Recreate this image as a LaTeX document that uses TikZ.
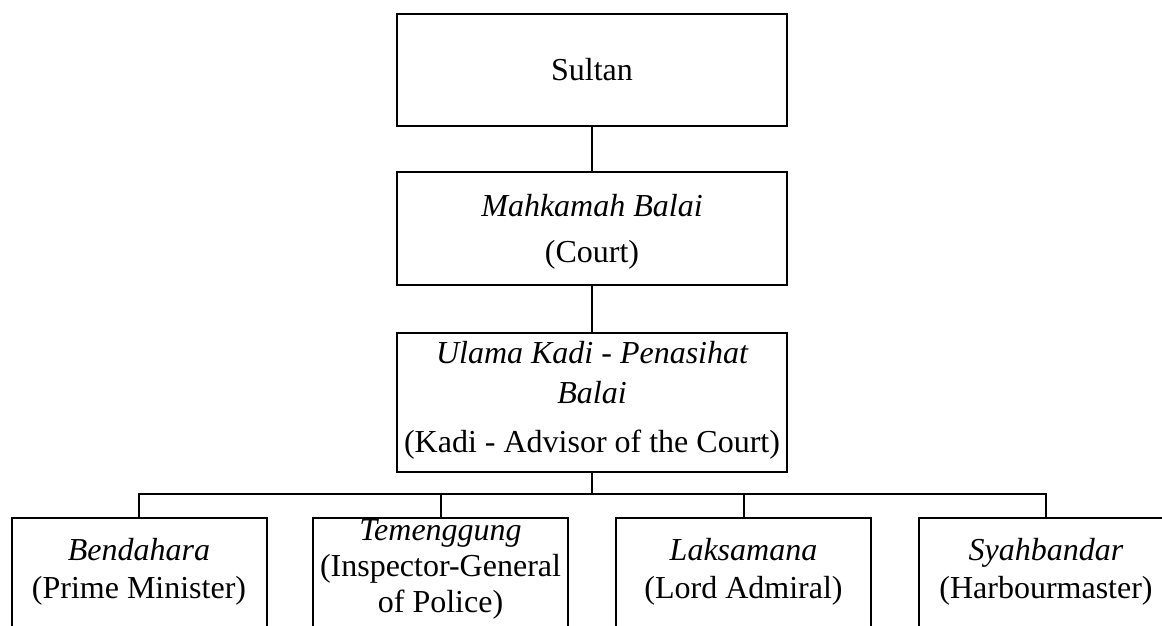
\documentclass[tikz,border=0pt]{standalone}
\usepackage{fontspec}
\setmainfont{Liberation Serif}
\begin{document}
\begin{tikzpicture}[x=1pt,y=-1pt,
  box/.style={draw,line width=2pt,rectangle,inner sep=0pt,minimum width=390pt},
  sub/.style={draw,line width=2pt,rectangle,inner sep=0pt,minimum width=255pt,minimum height=150pt},
  conn/.style={line width=2pt},
  txt/.style={anchor=base,inner sep=0pt,font=\fontsize{32}{38}\selectfont},
  itxt/.style={txt,font=\fontsize{32}{38}\selectfont\itshape}]
\useasboundingbox (0,0) rectangle (1162,625);
\clip (0,0) rectangle (1162,625);
\node[box,minimum height=112pt] (sultan) at (592,70) {};
\node[box,minimum height=113pt] (court) at (592,228.5) {};
\node[box,minimum height=139pt] (kadi) at (592,402.5) {};
\node[sub] (b1) at (139,593) {};
\node[sub] (b2) at (440.5,593) {};
\node[sub] (b3) at (743.5,593) {};
\node[sub] (b4) at (1046,593) {};
\coordinate (bus) at (592,494);
\draw[conn] (sultan.south) -- (court.north);
\draw[conn] (court.south) -- (kadi.north);
\draw[conn] (kadi.south) -- (bus);
\draw[conn] (b1.north) |- (bus) -| (b4.north);
\draw[conn] (b2.north) -- (b2.north |- bus);
\draw[conn] (b3.north) -- (b3.north |- bus);
% texts
\node[txt] (t0) at (592,80) {Sultan};
\node[itxt] (t1) at (592,216) {Mahkamah Balai};
\node[txt] (t2) at (592,262) {(Court)};
\node[itxt] (t3) at (592,363) {Ulama Kadi - Penasihat};
\node[itxt] (t4) at (592,403) {Balai};
\node[txt] (t5) at (592,452) {(Kadi - Advisor of the Court)};
\node[itxt] (t6) at (139,560) {Bendahara};
\node[txt] (t7) at (139,598) {(Prime Minister)};
\node[itxt] (t8) at (440.5,540) {Temenggung};
\node[txt] (t9) at (440.5,576) {(Inspector-General};
\node[txt] (t10) at (440.5,612) {of Police)};
\node[itxt] (t11) at (743.5,560) {Laksamana};
\node[txt] (t12) at (743.5,598) {(Lord Admiral)};
\node[itxt] (t13) at (1046,560) {Syahbandar};
\node[txt] (t14) at (1046,598) {(Harbourmaster)};
\end{tikzpicture}
\end{document}
